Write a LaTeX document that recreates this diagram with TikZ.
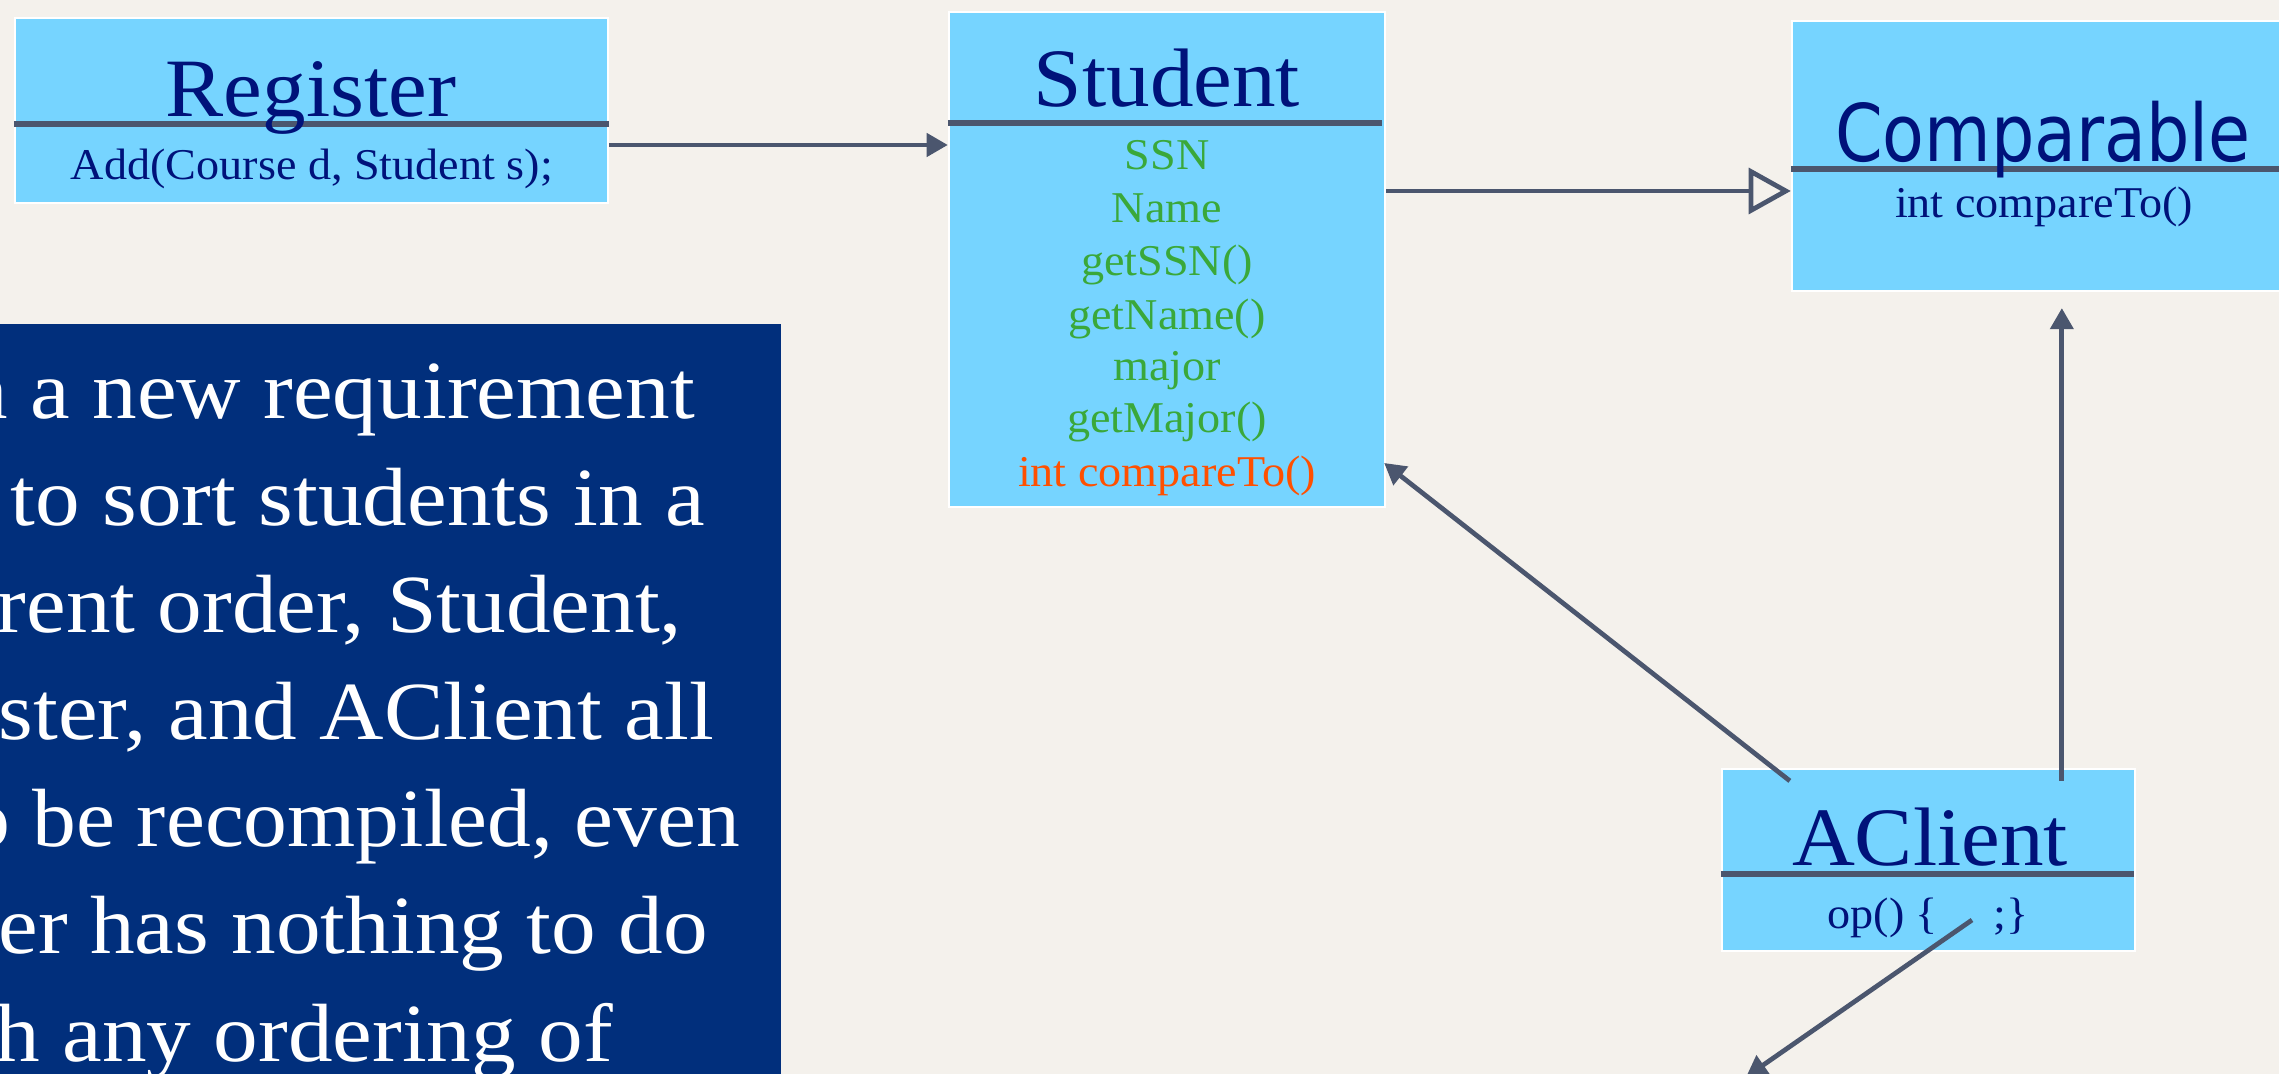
\documentclass[tikz,border=0pt]{standalone}
\usepackage{fontspec}
\usetikzlibrary{arrows.meta,calc}
\newfontfamily\cmpsans{DejaVu Sans}
\newfontfamily\serifL{Liberation Serif}
\newcommand\sxT[1]{\scalebox{1.05}[1]{#1}}
\newcommand\sxN[1]{\scalebox{1.08}[1]{#1}}
\definecolor{bgpaper}{RGB}{244,241,236}
\definecolor{boxblue}{RGB}{118,212,255}
\definecolor{slate}{RGB}{75,86,110}
\definecolor{navy}{RGB}{0,18,122}
\definecolor{attrgreen}{RGB}{58,168,58}
\definecolor{attrorange}{RGB}{255,80,0}
\definecolor{noteblue}{RGB}{1,47,124}
\begin{document}
\begin{tikzpicture}[x=0.01cm,y=-0.01cm,
  classbox/.style={draw=white,line width=0.6pt,fill=boxblue,rectangle,inner sep=0pt},
  divider/.style={draw=slate,line width=1.5pt},
  conn/.style={draw=slate,line width=1.35pt},
  filledtip/.style={-{Triangle[length=6pt,width=6.5pt]}},
  hollowtip/.style={-{Triangle[open,length=12pt,width=13pt]}},
  ctitle/.style={anchor=base,inner sep=0pt,text=navy,font=\serifL\fontsize{23.6}{28}\selectfont},
  cbody/.style={anchor=base,inner sep=0pt,text=navy,font=\serifL\fontsize{12.5}{15}\selectfont},
  attr/.style={anchor=base,inner sep=0pt,text=attrgreen,font=\serifL\fontsize{12.5}{15}\selectfont},
  noteline/.style={anchor=base west,inner sep=0pt,text=white,font=\serifL\fontsize{23.5}{28}\selectfont}]
\useasboundingbox (0,0) rectangle (2279,1074);
\clip (0,0) rectangle (2279,1074);
\fill[bgpaper] (0,0) rectangle (2279,1074);

% class boxes
\node[classbox,minimum width=5.93cm,minimum height=1.85cm] (register) at (311.5,110.5) {};
\node[classbox,minimum width=4.36cm,minimum height=4.95cm] (student) at (1167,259.5) {};
\node[classbox,minimum width=5.08cm,minimum height=2.70cm] (comparable) at (2046,156) {};
\node[classbox,minimum width=4.13cm,minimum height=1.82cm] (aclient) at (1928.5,860) {};

% note box
\node[fill=noteblue,inner sep=0pt,minimum width=8.11cm,minimum height=7.76cm] (note) at (375.5,712) {};

% dividers
\draw[divider] (register.west |- 0,124) -- (register.east |- 0,124);
\draw[divider] (student.west |- 0,123) -- ($(student.east |- 0,123)+(-4,0)$);
\draw[divider] (comparable.west |- 0,169) -- (comparable.east |- 0,169);
\draw[divider] (aclient.west |- 0,874) -- ($(aclient.east |- 0,874)+(-2,0)$);

% texts
\node[ctitle] (regT) at (311,117) {\sxT{Register}};
\node[cbody] (regB) at (312,180) {\sxT{Add(Course d, Student s);}};
\node[ctitle] (stuT) at (1167,107) {\sxT{Student}};
\node[attr] (s1) at (1167,170) {\sxT{SSN}};
\node[attr] (s2) at (1167,223) {\sxT{Name}};
\node[attr] (s3) at (1167,276) {\sxT{getSSN()}};
\node[attr] (s4) at (1167,330) {\sxT{getName()}};
\node[attr] (s5) at (1167,381) {\sxT{major}};
\node[attr] (s6) at (1167,433) {\sxT{getMajor()}};
\node[attr,text=attrorange] (s7) at (1167,487) {\sxT{int compareTo()}};
\node[anchor=base,inner sep=0pt,text=navy,font=\cmpsans\fontsize{22.6}{27}\selectfont] (cmpT) at (2043,162) {\scalebox{0.86}[1]{Comparable}};
\node[cbody] (cmpB) at (2044,218) {\sxT{int compareTo()}};
\node[ctitle] (acT) at (1930,866) {\sxT{AClient}};
\node[cbody] (acB) at (1928,929) {\sxT{op() \{\hspace{1.2em};\}}};

% note text
\node[noteline] (n1) at (-37,419) {\sxN{n a new requirement}};
\node[noteline] (n2) at (10,526) {\sxN{to sort students in a}};
\node[noteline] (n3) at (-4,633) {\sxN{rent order, Student,}};
\node[noteline] (n4) at (-2,740) {\sxN{ster, and AClient all}};
\node[noteline] (n5) at (-34,847) {\scalebox{1.06}[1]{o be recompiled, even}};
\node[noteline] (n6) at (-2,954) {\sxN{er has nothing to do}};
\node[noteline] (n7) at (-5,1061) {\sxN{h any ordering of}};

% connectors
\coordinate (r1) at ($(register.east)+(0,34.5)$);
\draw[conn,filledtip] (r1) -- (r1 -| student.west);
\coordinate (st2) at (student.east |- 0,191);
\draw[conn,hollowtip] (st2) -- (st2 -| comparable.west);
\coordinate (a1) at ($(aclient.north west)+(69,13)$);
\coordinate (st3) at ($(student.east)+(-2,203.5)$);
\draw[conn,filledtip] (a1) -- (st3);
\coordinate (a2) at ($(aclient.north west)+(341,13)$);
\draw[conn,filledtip] (a2) -- ($(a2 |- comparable.south)+(0,16)$);
\coordinate (a3) at ($(acB.base)+(44,-9)$);
\coordinate (offend) at (1746,1077);
\draw[conn,filledtip] (a3) -- (offend);
\end{tikzpicture}
\end{document}
